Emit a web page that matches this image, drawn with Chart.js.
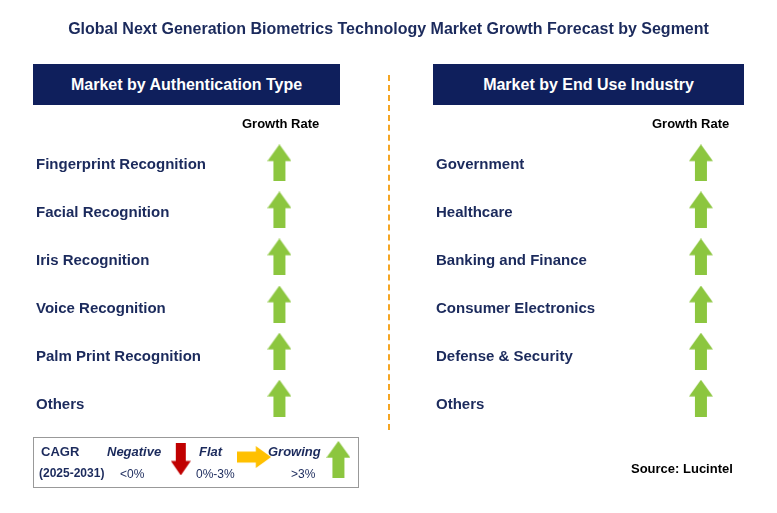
<!DOCTYPE html>
<html><head><meta charset="utf-8">
<script src="https://cdn.jsdelivr.net/npm/chart.js@4/dist/chart.umd.min.js"></script>
<style>
body{margin:0;background:#fff;font-family:Arial,"Liberation Sans",sans-serif;}
#wrap{position:relative;width:777px;height:513px;overflow:hidden;}
#c{position:absolute;left:0;top:0;}
.t{position:absolute;white-space:nowrap;color:#1b2a5c;font-weight:bold;}
.hdr{position:absolute;background:#0f1f5c;color:#fff;font-weight:bold;font-size:16px;text-align:center;line-height:41px;height:41px;}
.lbl{position:absolute;font-size:15px;font-weight:bold;color:#1b2a5c;transform:translateY(-50%);}
.gr{position:absolute;font-size:13px;font-weight:bold;color:#000;}
</style></head><body>
<div id="wrap">
<canvas id="c" width="777" height="513"></canvas>
</div>
<script>
const title = 'Global Next Generation Biometrics Technology Market Growth Forecast by Segment';
const panelTitles = ['Market by Authentication Type', 'Market by End Use Industry'];
const authTypes = ['Fingerprint Recognition','Facial Recognition','Iris Recognition','Voice Recognition','Palm Print Recognition','Others'];
const endUses = ['Government','Healthcare','Banking and Finance','Consumer Electronics','Defense & Security','Others'];
const authGrowth = ['up','up','up','up','up','up'];
const endUseGrowth = ['up','up','up','up','up','up'];

const wrap = document.getElementById('wrap');
function add(cls, text, css) {
  const d = document.createElement('div');
  d.className = cls; d.textContent = text; Object.assign(d.style, css); wrap.appendChild(d); return d;
}
add('t', title, {left:'0', width:'777px', textAlign:'center', top:'20px', fontSize:'16px'});
add('hdr', panelTitles[0], {left:'33px', top:'64px', width:'307px'});
add('hdr', panelTitles[1], {left:'433px', top:'64px', width:'311px'});
add('gr', 'Growth Rate', {left:'242px', top:'116px'});
add('gr', 'Growth Rate', {left:'652px', top:'116px'});
const rowY = i => 163 + 48 * i;
authTypes.forEach((s, i) => add('lbl', s, {left:'36px', top: rowY(i) + 'px'}));
endUses.forEach((s, i) => add('lbl', s, {left:'436px', top: rowY(i) + 'px'}));
// divider
add('', '', {position:'absolute', left:'388px', top:'75px', height:'355px', borderLeft:'2px dashed #f5a623'});
// legend box
const lg = add('', '', {position:'absolute', left:'33px', top:'437px', width:'324px', height:'49px', border:'1px solid #999'});
const lt = (text, css) => add('', text, Object.assign({position:'absolute', fontSize:'12px', color:'#1b2a5c'}, css));
lt('CAGR', {left:'41px', top:'444px', fontWeight:'bold', fontSize:'13px'});
lt('(2025-2031)', {left:'39px', top:'466px', fontWeight:'bold'});
lt('Negative', {left:'107px', top:'444px', fontWeight:'bold', fontStyle:'italic', fontSize:'13px'});
lt('<0%', {left:'120px', top:'467px'});
lt('Flat', {left:'199px', top:'444px', fontWeight:'bold', fontStyle:'italic', fontSize:'13px'});
lt('0%-3%', {left:'196px', top:'467px'});
lt('Growing', {left:'268px', top:'444px', fontWeight:'bold', fontStyle:'italic', fontSize:'13px'});
lt('>3%', {left:'291px', top:'467px'});
add('t', 'Source: Lucintel', {left:'631px', top:'461px', fontSize:'13px', color:'#000'});

function arrow(dir, color, w, h) {
  const cv = document.createElement('canvas');
  cv.width = w; cv.height = h;
  const g = cv.getContext('2d');
  g.fillStyle = color;
  g.save();
  if (dir === 'down') { g.translate(w, h); g.rotate(Math.PI); }
  g.beginPath();
  if (dir === 'right') {
    const s = h * 0.25, hw = w * 0.45;
    g.moveTo(0, s); g.lineTo(w - hw, s); g.lineTo(w - hw, 0); g.lineTo(w, h / 2);
    g.lineTo(w - hw, h); g.lineTo(w - hw, h - s); g.lineTo(0, h - s);
  } else {
    const s = w * 0.25, hh = h * 0.45;
    g.moveTo(w / 2, 0); g.lineTo(w, hh); g.lineTo(w - s, hh); g.lineTo(w - s, h);
    g.lineTo(s, h); g.lineTo(s, hh); g.lineTo(0, hh);
  }
  g.closePath(); g.fill(); g.restore();
  return cv;
}
const icons = {
  up: arrow('up', '#8cc63f', 24, 37),
  down: arrow('down', '#c00000', 20, 32),
  flat: arrow('right', '#ffc000', 34, 22)
};
// column 0 = authentication type, 1 = end use; y = row index
const pts = [];
authGrowth.forEach((g, i) => pts.push({x: 0, y: i, g}));
endUseGrowth.forEach((g, i) => pts.push({x: 1, y: i, g}));
// legend arrows on the same scale
const legendPts = [{x: -0.234, y: 6.3, g: 'down'}, {x: -0.06, y: 6.25, g: 'flat'}, {x: 0.14, y: 6.3, g: 'up'}];

new Chart(document.getElementById('c'), {
  type: 'scatter',
  data: { datasets: [
    { data: pts, pointStyle: pts.map(p => icons[p.g]) },
    { data: legendPts, pointStyle: legendPts.map(p => icons[p.g]) }
  ]},
  options: {
    responsive: false, animation: false, layout: {padding: 0},
    plugins: {legend: {display: false}, tooltip: {enabled: false}},
    scales: {
      x: {type: 'linear', display: false, min: -0.651, max: 1.1686},
      y: {type: 'linear', display: false, reverse: true, min: -3.354, max: 7.333}
    }
  }
});
</script>
</body></html>
